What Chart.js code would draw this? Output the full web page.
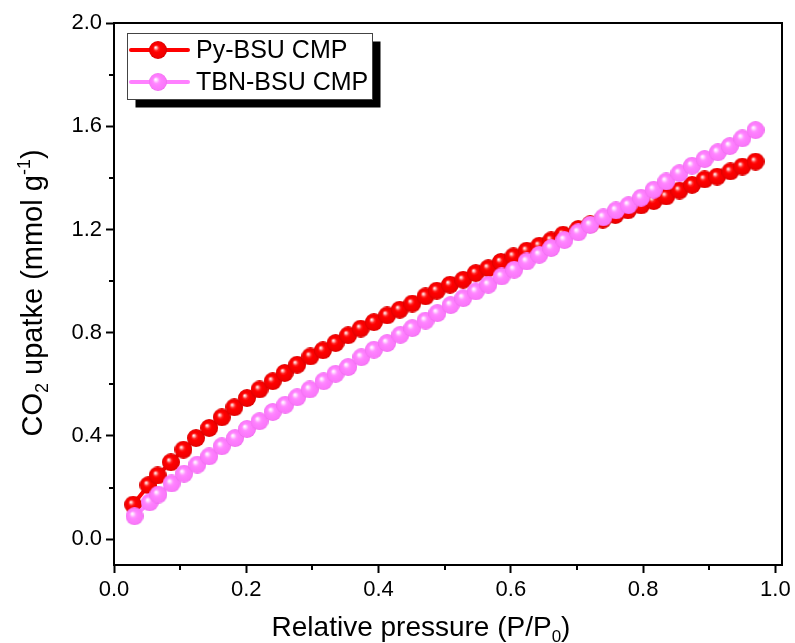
<!DOCTYPE html>
<html>
<head>
<meta charset="utf-8">
<script src="https://cdn.jsdelivr.net/npm/chart.js@4/dist/chart.umd.min.js"></script>
<style>
  html, body { margin: 0; padding: 0; background: #fff; }
  #c { display: block; }
</style>
</head>
<body>
<canvas id="c" width="795" height="643" style="width:795px;height:643px"></canvas>
<script>
// ---- Data ----
const seriesNames = ['Py-BSU CMP', 'TBN-BSU CMP'];

const pressurePy = [0.029,0.052,0.066,0.086,0.105,0.124,0.144,0.163,0.182,0.201,
  0.220,0.240,0.258,0.277,0.297,0.316,0.335,0.354,0.373,0.393,
  0.413,0.432,0.451,0.471,0.488,0.508,0.528,0.547,0.566,0.585,
  0.604,0.624,0.643,0.661,0.679,0.702,0.720,0.739,0.758,0.777,
  0.797,0.816,0.835,0.855,0.874,0.893,0.912,0.932,0.950,0.970];
const uptakePy = [0.134,0.209,0.247,0.298,0.347,0.392,0.431,0.472,0.511,0.547,
  0.580,0.612,0.644,0.676,0.708,0.732,0.760,0.790,0.816,0.841,
  0.867,0.889,0.913,0.941,0.963,0.986,1.005,1.031,1.050,1.074,
  1.096,1.118,1.137,1.158,1.180,1.202,1.220,1.238,1.256,1.274,
  1.293,1.310,1.328,1.351,1.373,1.394,1.405,1.425,1.444,1.463];

const pressureTBN = [0.031,0.054,0.067,0.087,0.106,0.126,0.144,0.163,0.183,0.201,
  0.220,0.240,0.259,0.277,0.296,0.317,0.335,0.354,0.374,0.393,
  0.413,0.433,0.451,0.471,0.489,0.509,0.528,0.547,0.566,0.586,
  0.605,0.624,0.643,0.661,0.681,0.702,0.720,0.740,0.759,0.778,
  0.797,0.816,0.835,0.855,0.874,0.893,0.913,0.931,0.950,0.970];
const uptakeTBN = [0.089,0.143,0.173,0.216,0.254,0.289,0.321,0.360,0.392,0.427,
  0.457,0.493,0.521,0.550,0.580,0.612,0.641,0.667,0.705,0.734,
  0.760,0.792,0.818,0.847,0.876,0.907,0.934,0.960,0.986,1.018,
  1.044,1.076,1.102,1.128,1.159,1.189,1.218,1.247,1.274,1.294,
  1.323,1.354,1.386,1.418,1.447,1.473,1.499,1.523,1.553,1.585];

const xTicks = [0.0, 0.2, 0.4, 0.6, 0.8, 1.0];
const xMinorTicks = [0.1, 0.3, 0.5, 0.7, 0.9];
const yTicks = [0.0, 0.4, 0.8, 1.2, 1.6, 2.0];
const yMinorTicks = [0.2, 0.6, 1.0, 1.4, 1.8];

// ---- Styling ----
const FONT = '"Liberation Sans", Arial, sans-serif';
const RED = '#ff0000';
const PINK = '#ff80ff';

function sphere(stops, size) {
  const c = document.createElement('canvas');
  c.width = size; c.height = size;
  const ctx = c.getContext('2d');
  const r = size / 2;
  const g = ctx.createRadialGradient(r - r * 0.28, r - r * 0.3, 0, r, r, r);
  stops.forEach(s => g.addColorStop(s[0], s[1]));
  ctx.fillStyle = g;
  ctx.beginPath();
  ctx.arc(r, r, r, 0, Math.PI * 2);
  ctx.fill();
  return c;
}
const redBall = sphere([[0, '#ffffff'], [0.1, '#ffc8c8'], [0.3, '#ff2020'], [0.45, '#ff0000'], [0.85, '#f00000'], [1, '#d40000']], 18);
const pinkBall = sphere([[0, '#ffffff'], [0.12, '#ffe6ff'], [0.35, '#ff90ff'], [0.5, '#ff80ff'], [0.88, '#fa78fa'], [1, '#ec6aec']], 18);

function toPoints(xs, ys) { return xs.map((x, i) => ({ x: x, y: ys[i] })); }

function drawRich(ctx, parts, size, cx, cy) {
  // parts: [text, mode] mode: 0 normal, 1 sub, 2 sup
  const small = Math.round(size * 0.62);
  let total = 0;
  parts.forEach(p => {
    ctx.font = (p[1] ? small : size) + 'px ' + FONT;
    total += ctx.measureText(p[0]).width;
  });
  let x = cx - total / 2;
  ctx.textBaseline = 'alphabetic';
  ctx.textAlign = 'left';
  parts.forEach(p => {
    ctx.font = (p[1] ? small : size) + 'px ' + FONT;
    let dy = 0;
    if (p[1] === 1) dy = size * 0.22;
    if (p[1] === 2) dy = -size * 0.42;
    ctx.fillText(p[0], x, cy + dy);
    x += ctx.measureText(p[0]).width;
  });
}

const framePlugin = {
  id: 'frame',
  afterDatasetsDraw(chart) {
    const ctx = chart.ctx;
    const a = chart.chartArea;
    const xs = chart.scales.x, ys = chart.scales.y;
    ctx.save();
    ctx.strokeStyle = '#000';
    ctx.lineWidth = 2;
    ctx.strokeRect(a.left, a.top, a.right - a.left, a.bottom - a.top);
    // minor ticks
    ctx.beginPath();
    xMinorTicks.forEach(v => {
      const px = Math.round(xs.getPixelForValue(v));
      ctx.moveTo(px, a.bottom); ctx.lineTo(px, a.bottom + 5);
    });
    yMinorTicks.forEach(v => {
      const py = Math.round(ys.getPixelForValue(v));
      ctx.moveTo(a.left, py); ctx.lineTo(a.left - 5, py);
    });
    ctx.stroke();

    // axis titles
    ctx.fillStyle = '#000';
    drawRich(ctx, [['Relative pressure (P/P', 0], ['0', 1], [')', 0]], 28, 421, 636);
    ctx.save();
    ctx.translate(42, 293);
    ctx.rotate(-Math.PI / 2);
    drawRich(ctx, [['CO', 0], ['2', 1], [' upatke (mmol g', 0], ['-1', 2], [')', 0]], 29, 0, 0);
    ctx.restore();

    // legend
    const lx = 127.5, ly = 33.5, lw = 245, lh = 66;
    ctx.fillStyle = '#000';
    ctx.fillRect(lx + 8, ly + 8, lw, lh);
    ctx.fillStyle = '#fff';
    ctx.fillRect(lx, ly, lw, lh);
    ctx.strokeStyle = '#444';
    ctx.lineWidth = 1;
    ctx.strokeRect(lx, ly, lw, lh);
    const rows = [[RED, redBall, 50], [PINK, pinkBall, 82]];
    rows.forEach((r, i) => {
      ctx.strokeStyle = r[0];
      ctx.lineWidth = 4;
      ctx.lineCap = 'round';
      ctx.beginPath();
      ctx.moveTo(131, r[2]); ctx.lineTo(188, r[2]);
      ctx.stroke();
      ctx.drawImage(r[1], 158 - 9, r[2] - 9);
      ctx.fillStyle = '#000';
      ctx.font = '25px ' + FONT;
      ctx.textAlign = 'left';
      ctx.textBaseline = 'middle';
      ctx.fillText(seriesNames[i], 196, r[2] + 1);
    });
    ctx.restore();
  }
};

new Chart(document.getElementById('c'), {
  type: 'line',
  data: {
    datasets: [
      {
        label: seriesNames[1],
        data: toPoints(pressureTBN, uptakeTBN),
        borderColor: PINK,
        backgroundColor: PINK,
        borderWidth: 4,
        pointStyle: pinkBall,
        pointRadius: 9,
        tension: 0,
        order: 1
      },
      {
        label: seriesNames[0],
        data: toPoints(pressurePy, uptakePy),
        borderColor: RED,
        backgroundColor: RED,
        borderWidth: 4,
        pointStyle: redBall,
        pointRadius: 9,
        tension: 0,
        order: 2
      }
    ]
  },
  options: {
    responsive: false,
    animation: false,
    devicePixelRatio: 1,
    layout: { padding: { top: 23, right: 10, left: 0, bottom: 0 } },
    plugins: { legend: { display: false }, tooltip: { enabled: false } },
    scales: {
      x: {
        type: 'linear',
        min: 0,
        max: 1.01,
        afterBuildTicks: s => { s.ticks = xTicks.map(v => ({ value: v })); },
        afterFit: s => { s.height = 78; },
        border: { display: true, color: '#000', width: 2 },
        grid: { display: true, drawOnChartArea: false, drawTicks: true, tickLength: 8, tickWidth: 2, tickColor: '#000' },
        ticks: {
          color: '#000',
          padding: 4,
          maxRotation: 0,
          font: { family: FONT, size: 22 },
          callback: v => v.toFixed(1)
        }
      },
      y: {
        type: 'linear',
        min: -0.1,
        max: 2.0,
        afterBuildTicks: s => { s.ticks = yTicks.map(v => ({ value: v })); },
        afterFit: s => { s.width = 114; },
        border: { display: true, color: '#000', width: 2 },
        grid: { display: true, drawOnChartArea: false, drawTicks: true, tickLength: 8, tickWidth: 2, tickColor: '#000' },
        ticks: {
          color: '#000',
          padding: 4,
          font: { family: FONT, size: 22 },
          callback: v => v.toFixed(1)
        }
      }
    }
  },
  plugins: [framePlugin]
});
</script>
</body>
</html>
